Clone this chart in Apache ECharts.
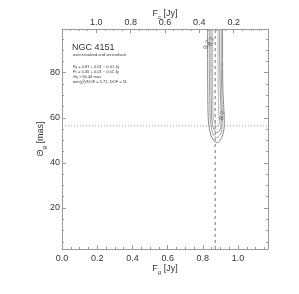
<!DOCTYPE html>
<html><head><meta charset="utf-8">
<script src="https://cdn.jsdelivr.net/npm/echarts@6/dist/echarts.min.js"></script>
<style>html,body{margin:0;padding:0;background:#fff}#c{width:299px;height:294px}</style>
</head><body><div id="c"></div>
<script>
// ---- data ----
const fgRange = [0, 1.17];
const fcRange = [0, 1.2];
const thetaRange = [1.8, 99.4];
const fgMajor = [0.0, 0.2, 0.4, 0.6, 0.8, 1.0];
const fgMinor = [0,0.05,0.1,0.15,0.2,0.25,0.3,0.35,0.4,0.45,0.5,0.55,0.6,0.65,0.7,0.75,0.8,0.85,0.9,0.95,1.0,1.05,1.1,1.15];
const fcMajor = [0.2, 0.4, 0.6, 0.8, 1.0];
const fcMinor = [0.05,0.1,0.15,0.2,0.25,0.3,0.35,0.4,0.45,0.5,0.55,0.6,0.65,0.7,0.75,0.8,0.85,0.9,0.95,1.0,1.05,1.1,1.15];
const thetaMajor = [20, 40, 60, 80];
const thetaMinor = [5,10,15,20,25,30,35,40,45,50,55,60,65,70,75,80,85,90,95];
const bestFg = 0.87;
const bestTheta = 56.44;
// contour paths [F_g, theta]
const contour1 = [[0.8267,99.4],[0.8270,85],[0.8278,72],[0.8290,64],[0.8335,56.9],[0.8449,52.5],[0.8620,49.85],[0.8791,48.96],[0.8962,49.85],[0.9133,52.5],[0.9219,56.9],[0.9190,64],[0.9140,72],[0.9120,85],[0.9122,99.4]];
const contour2 = [[0.8364,99.4],[0.8368,85],[0.8380,72],[0.8421,59.5],[0.8506,54.7],[0.8592,52.5],[0.8791,51.2],[0.9000,52.5],[0.9076,54.7],[0.9105,59.5],[0.9070,72],[0.9050,85],[0.9048,99.4]];
const contour3 = [[0.8461,99.4],[0.8463,85],[0.8470,72],[0.8506,59.5],[0.8592,55.6],[0.8791,53.4],[0.9019,55.6],[0.9036,60.4],[0.8990,72],[0.8960,85],[0.8951,99.4]];
const contour4 = [[0.8552,99.4],[0.8555,85],[0.8560,72],[0.8592,60.4],[0.8677,57.8],[0.8791,56.05],[0.8934,57.8],[0.8905,61.75],[0.8875,72],[0.8862,85],[0.8860,99.4]];
const contourLabels = [[0.8233,92.4,'9.7'],[0.8478,93.8,'8.7'],[0.9105,60.9,'9.7']];

const FONT = 'Liberation Sans, Arial, sans-serif';
const AX = '#9a9a9a';
const TX = '#333';
const chart = echarts.init(document.getElementById('c'), null, {renderer: 'canvas'});

function valAxis(extra) {
  return Object.assign({
    type: 'value', gridIndex: 0, scale: false,
    splitLine: {show: false},
    axisLine: {show: true, lineStyle: {color: AX, width: 1}},
    axisTick: {show: true, inside: true, length: 4, lineStyle: {color: AX}},
    axisLabel: {show: false},
    minorTick: {show: false},
    nameMoveOverlap: false
  }, extra);
}
const nameRich = {
  n: {fontSize: 9, fontFamily: FONT, color: TX},
  s: {fontSize: 6, fontFamily: FONT, color: TX, verticalAlign: 'bottom', padding: [6, 0, 0, 0]}
};

const option = {
  animation: false,
  backgroundColor: '#fff',
  grid: {left: 62, top: 29, width: 206, height: 220, containLabel: false},
  xAxis: [
    valAxis({position: 'bottom', min: fgRange[0], max: fgRange[1],
      axisTick: {show: true, inside: true, length: 4, customValues: fgMajor, lineStyle: {color: AX}},
      axisLabel: {show: true, customValues: fgMajor, margin: 5, fontSize: 9, fontFamily: FONT, color: TX, formatter: v => v.toFixed(1)},
      name: '{n|F}{s|g}{n| [Jy]}', nameLocation: 'middle', nameGap: 14, nameTextStyle: {rich: nameRich}}),
    valAxis({position: 'bottom', min: fgRange[0], max: fgRange[1], axisLine: {show: false},
      axisTick: {show: true, inside: true, length: 2, customValues: fgMinor, lineStyle: {color: AX}}}),
    valAxis({position: 'top', min: fcRange[0], max: fcRange[1], inverse: true,
      axisTick: {show: true, inside: true, length: 4, customValues: fcMajor, lineStyle: {color: AX}},
      axisLabel: {show: true, customValues: fcMajor, margin: 2, fontSize: 9, fontFamily: FONT, color: TX, formatter: v => v.toFixed(1)},
      name: '{n|F}{s|c}{n| [Jy]}', nameLocation: 'middle', nameGap: 9, nameTextStyle: {rich: nameRich}}),
    valAxis({position: 'top', min: fcRange[0], max: fcRange[1], inverse: true, axisLine: {show: false},
      axisTick: {show: true, inside: true, length: 2, customValues: fcMinor, lineStyle: {color: AX}}})
  ],
  yAxis: [
    valAxis({position: 'left', min: thetaRange[0], max: thetaRange[1],
      axisTick: {show: true, inside: true, length: 4, customValues: thetaMajor, lineStyle: {color: AX}},
      axisLabel: {show: true, customValues: thetaMajor, margin: 2, fontSize: 9, fontFamily: FONT, color: TX},
      name: '{n|Θ}{s|g}{n| [mas]}', nameLocation: 'middle', nameGap: 15, nameRotate: 90, nameTextStyle: {rich: nameRich}}),
    valAxis({position: 'left', min: thetaRange[0], max: thetaRange[1], axisLine: {show: false},
      axisTick: {show: true, inside: true, length: 2, customValues: thetaMinor, lineStyle: {color: AX}}}),
    valAxis({position: 'right', min: thetaRange[0], max: thetaRange[1],
      axisTick: {show: true, inside: true, length: 4, customValues: thetaMajor, lineStyle: {color: AX}}}),
    valAxis({position: 'right', min: thetaRange[0], max: thetaRange[1], axisLine: {show: false},
      axisTick: {show: true, inside: true, length: 2, customValues: thetaMinor, lineStyle: {color: AX}}})
  ],
  series: [
    {type: 'line', data: [[fgRange[0], bestTheta], [fgRange[1], bestTheta]], symbol: 'none', silent: true,
      lineStyle: {color: '#9a9a9a', width: 1, type: [1, 2]}},
    {type: 'line', data: [[bestFg, thetaRange[0]], [bestFg, thetaRange[1]]], symbol: 'none', silent: true,
      lineStyle: {color: '#777', width: 1, type: [3, 3]}},
    {type: 'line', data: contour1, smooth: 0.3, symbol: 'none', lineStyle: {color: '#888', width: 1}},
    {type: 'line', data: contour2, smooth: 0.3, symbol: 'none', lineStyle: {color: '#a2a2a2', width: 1}},
    {type: 'line', data: contour3, smooth: 0.3, symbol: 'none', lineStyle: {color: '#949494', width: 1}},
    {type: 'line', data: contour4, smooth: 0.3, symbol: 'none', lineStyle: {color: '#b4b4b4', width: 1}},
    {type: 'scatter', data: contourLabels.map(d => ({value: [d[0], d[1]], name: d[2]})), symbol: 'circle', symbolSize: 1,
      itemStyle: {color: 'rgba(0,0,0,0)'}, silent: true, z: 10,
      label: {show: true, position: 'inside', formatter: p => p.name, rotate: 70, fontSize: 6.5, fontFamily: FONT, color: '#444'}}
  ],
  graphic: [
    {type: 'text', left: 72, top: 43, style: {text: 'NGC 4151', font: '9px ' + FONT, fill: TX}},
    {type: 'text', left: 73, top: 53, style: {text: 'over-resolved and unresolved', font: '4px ' + FONT, fill: TX}},
    {type: 'text', left: 73, top: 65, style: {rich: {a: {font: '4px ' + FONT, fill: TX}, b: {font: '3px ' + FONT, fill: TX, verticalAlign: 'bottom'}}, text: '{a|F}{b|g}{a| = 0.87 + 0.01 − 0.01 Jy}'}},
    {type: 'text', left: 73, top: 70, style: {rich: {a: {font: '4px ' + FONT, fill: TX}, b: {font: '3px ' + FONT, fill: TX, verticalAlign: 'bottom'}}, text: '{a|F}{b|c}{a| = 0.30 + 0.01 − 0.01 Jy}'}},
    {type: 'text', left: 73, top: 75, style: {rich: {a: {font: '4px ' + FONT, fill: TX}, b: {font: '3px ' + FONT, fill: TX, verticalAlign: 'bottom'}}, text: '{a|Θ}{b|g}{a| > 56.44 mas}'}},
    {type: 'text', left: 73, top: 80, style: {text: 'min(χ²)/DOF = 5.71; DOF = 11', font: '4px ' + FONT, fill: TX}}
  ]
};
chart.setOption(option);
</script>
</body></html>
